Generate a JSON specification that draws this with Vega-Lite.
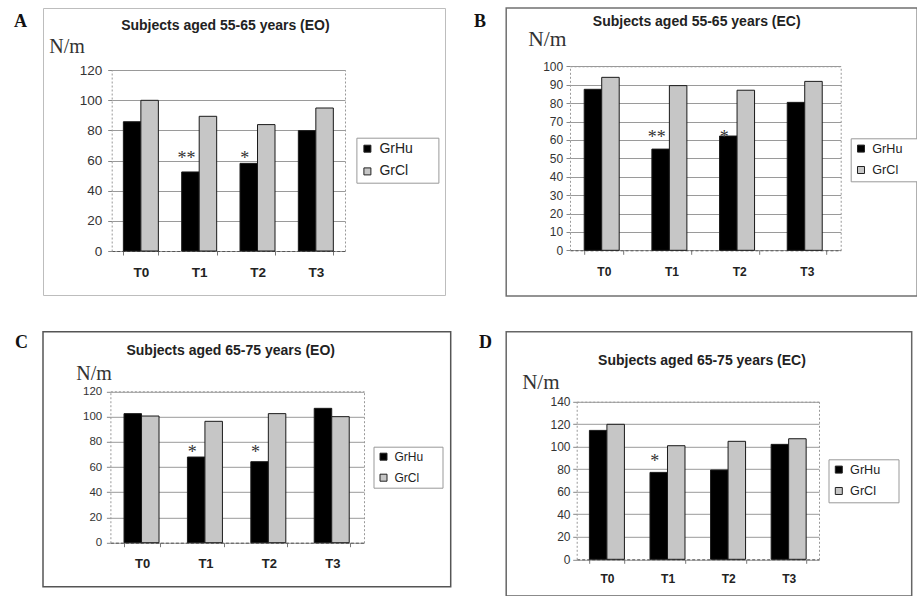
{
  "$schema": "https://vega.github.io/schema/vega-lite/v6.json",
  "padding": {"left": 12, "top": 7, "right": 0, "bottom": 0},
  "background": "white",
  "bounds": "flush",
  "align": "none",
  "columns": 2,
  "spacing": {"row": 35.8, "column": 55.2},
  "resolve": {"scale": {"color": "independent"}, "legend": {"color": "independent"}},
  "config": {
    "font": "Liberation Sans",
    "view": {"stroke": "#707070", "strokeWidth": 1.5},
    "title": {"font": "Liberation Sans", "fontSize": 14, "fontWeight": "bold", "color": "#222", "anchor": "middle", "frame": "group", "baseline": "alphabetic"},
    "axis": {"labelFont": "Liberation Sans", "labelColor": "#333"},
    "axisLeft": {"grid": true, "gridColor": "#9a9a9a", "gridWidth": 1, "domain": true, "domainColor": "#999", "domainDash": [2, 2], "ticks": true, "tickSize": 4, "tickColor": "#888", "labelFontSize": 12, "titleFont": "Liberation Serif", "titleFontSize": 21, "titleFontWeight": "normal", "titleColor": "#333", "titleAngle": 0, "titleAlign": "left", "titleBaseline": "alphabetic"},
    "axisBottom": {"grid": false, "domain": true, "domainColor": "#555", "domainDash": [3, 2], "ticks": true, "tickBand": "extent", "tickSize": 4, "tickColor": "#777", "labelFontWeight": "bold", "labelColor": "#222", "labelAngle": 0, "titleFont": "Liberation Serif", "titleFontSize": 18, "titleFontWeight": "bold", "titleColor": "#111", "titleAlign": "left", "titleBaseline": "alphabetic", "titleAngle": 0},
    "axisTop": {"grid": false, "domain": true, "domainColor": "#999", "domainDash": [2, 2], "ticks": false, "labels": false},
    "axisRight": {"grid": false, "domain": true, "domainColor": "#999", "domainDash": [2, 2], "ticks": false, "labels": false},
    "legend": {"orient": "none", "titleOrient": "right", "titleFontSize": 1, "padding": 4, "strokeColor": "#999", "fillColor": "white", "symbolType": "square", "symbolSize": 49, "symbolStrokeColor": "#222", "symbolStrokeWidth": 1, "labelFont": "Liberation Sans", "labelColor": "#222", "labelOffset": 5},
    "text": {"font": "Liberation Serif", "fontSize": 18, "color": "#333", "baseline": "alphabetic", "dx": -4}
  },
  "datasets": {
    "A": [
      {"time": "T0", "group": "GrHu", "value": 85.7}, {"time": "T0", "group": "GrCl", "value": 99.9},
      {"time": "T1", "group": "GrHu", "value": 52.4}, {"time": "T1", "group": "GrCl", "value": 89.3},
      {"time": "T2", "group": "GrHu", "value": 58.1}, {"time": "T2", "group": "GrCl", "value": 83.8},
      {"time": "T3", "group": "GrHu", "value": 79.8}, {"time": "T3", "group": "GrCl", "value": 94.8}
    ],
    "A_sig": [
      {"time": "T1", "group": "GrHu", "sig": "**", "pos": 57.9},
      {"time": "T2", "group": "GrHu", "sig": "*", "pos": 57.9}
    ],
    "B": [
      {"time": "T0", "group": "GrHu", "value": 87.5}, {"time": "T0", "group": "GrCl", "value": 94.0},
      {"time": "T1", "group": "GrHu", "value": 55.0}, {"time": "T1", "group": "GrCl", "value": 89.5},
      {"time": "T2", "group": "GrHu", "value": 62.1}, {"time": "T2", "group": "GrCl", "value": 87.0},
      {"time": "T3", "group": "GrHu", "value": 80.4}, {"time": "T3", "group": "GrCl", "value": 91.8}
    ],
    "B_sig": [
      {"time": "T1", "group": "GrHu", "sig": "**", "pos": 58.5},
      {"time": "T2", "group": "GrHu", "sig": "*", "pos": 58.5}
    ],
    "C": [
      {"time": "T0", "group": "GrHu", "value": 102.3}, {"time": "T0", "group": "GrCl", "value": 100.4},
      {"time": "T1", "group": "GrHu", "value": 67.9}, {"time": "T1", "group": "GrCl", "value": 96.2},
      {"time": "T2", "group": "GrHu", "value": 64.2}, {"time": "T2", "group": "GrCl", "value": 102.3},
      {"time": "T3", "group": "GrHu", "value": 106.5}, {"time": "T3", "group": "GrCl", "value": 99.9}
    ],
    "C_sig": [
      {"time": "T1", "group": "GrHu", "sig": "*", "pos": 67.4},
      {"time": "T2", "group": "GrHu", "sig": "*", "pos": 67.4}
    ],
    "D": [
      {"time": "T0", "group": "GrHu", "value": 114.5}, {"time": "T0", "group": "GrCl", "value": 119.9},
      {"time": "T1", "group": "GrHu", "value": 77.2}, {"time": "T1", "group": "GrCl", "value": 100.9},
      {"time": "T2", "group": "GrHu", "value": 79.3}, {"time": "T2", "group": "GrCl", "value": 104.8},
      {"time": "T3", "group": "GrHu", "value": 102.1}, {"time": "T3", "group": "GrCl", "value": 107.1}
    ],
    "D_sig": [
      {"time": "T1", "group": "GrHu", "sig": "*", "pos": 81.6}
    ]
  },
  "concat": [
    {
      "width": 402, "height": 287,
      "view": {"stroke": "#bdbdbd", "strokeWidth": 1},
      "title": {"text": "Subjects aged 55-65 years (EO)", "dx": -18.6, "offset": -24.5},
      "resolve": {"axis": {"x": "independent", "y": "independent"}},
      "layer": [
        {
          "data": {"name": "A"},
          "mark": {"type": "bar", "stroke": "#1a1a1a", "strokeWidth": 1},
          "encoding": {
            "x": {"field": "time", "type": "nominal", "scale": {"domain": ["T0", "T1", "T2", "T3"], "range": [68.7, 302], "paddingInner": 0.4, "paddingOuter": 0.2},
              "axis": {"orient": "bottom", "offset": -44, "labelFontSize": 13.5, "labelPadding": 10.3, "title": "A", "titleX": -29.6, "titleY": -225}},
            "xOffset": {"field": "group", "type": "nominal", "scale": {"domain": ["GrHu", "GrCl"], "paddingInner": 0, "paddingOuter": 0}},
            "y": {"field": "value", "type": "quantitative", "scale": {"domain": [0, 120], "range": [243, 62], "nice": false},
              "axis": {"orient": "left", "offset": -68.7, "values": [0, 20, 40, 60, 80, 100, 120], "labelFontSize": 13.5, "labelPadding": 6, "title": "N/m", "titleX": -63, "titleY": 44.5, "titleFontSize": 20}},
            "color": {"field": "group", "type": "nominal", "scale": {"domain": ["GrHu", "GrCl"], "range": ["#000000", "#c6c6c6"]},
              "legend": {"title": " ", "legendX": 313.4, "legendY": 129.7, "labelFontSize": 14, "rowPadding": 8.7, "titlePadding": 22}}
          }
        },
        {
          "data": {"name": "A_sig"},
          "mark": {"type": "text"},
          "encoding": {
            "x": {"field": "time", "type": "nominal", "axis": {"orient": "top", "offset": -62, "title": null}},
            "xOffset": {"field": "group", "type": "nominal"},
            "y": {"field": "pos", "type": "quantitative", "axis": {"orient": "right", "offset": -100, "title": null, "grid": false}},
            "text": {"field": "sig"}
          }
        }
      ]
    },
    {
      "width": 411, "height": 288,
      "view": {"stroke": "#707070", "strokeWidth": 1.5},
      "title": {"text": "Subjects aged 55-65 years (EC)", "dx": -15, "offset": -21},
      "resolve": {"axis": {"x": "independent", "y": "independent"}},
      "layer": [
        {
          "data": {"name": "B"},
          "mark": {"type": "bar", "stroke": "#1a1a1a", "strokeWidth": 1},
          "encoding": {
            "x": {"field": "time", "type": "nominal", "scale": {"domain": ["T0", "T1", "T2", "T3"], "range": [63.8, 334.5], "paddingInner": 0.42, "paddingOuter": 0.21},
              "axis": {"orient": "bottom", "offset": -45.7, "labelFontSize": 12, "labelPadding": 12.2, "title": "B", "titleX": -32.8, "titleY": -224.3}},
            "xOffset": {"field": "group", "type": "nominal", "scale": {"domain": ["GrHu", "GrCl"], "paddingInner": 0, "paddingOuter": 0}},
            "y": {"field": "value", "type": "quantitative", "scale": {"domain": [0, 100], "range": [242.3, 58.3], "nice": false},
              "axis": {"orient": "left", "offset": -63.8, "values": [0, 10, 20, 30, 40, 50, 60, 70, 80, 90, 100], "labelFontSize": 12, "labelPadding": 3.3, "title": "N/m", "titleX": -42.3, "titleY": 37.5, "titleFontSize": 21.5}},
            "color": {"field": "group", "type": "nominal", "scale": {"domain": ["GrHu", "GrCl"], "range": ["#000000", "#c6c6c6"]},
              "legend": {"title": " ", "legendX": 344.5, "legendY": 130.3, "labelFontSize": 12.6, "rowPadding": 8.4, "titlePadding": 14}}
          }
        },
        {
          "data": {"name": "B_sig"},
          "mark": {"type": "text"},
          "encoding": {
            "x": {"field": "time", "type": "nominal", "axis": {"orient": "top", "offset": -58.3, "title": null}},
            "xOffset": {"field": "group", "type": "nominal"},
            "y": {"field": "pos", "type": "quantitative", "axis": {"orient": "right", "offset": -76.5, "title": null, "grid": false}},
            "text": {"field": "sig"}
          }
        }
      ]
    },
    {
      "width": 407.7, "height": 254.9,
      "view": {"stroke": "#555555", "strokeWidth": 1.5},
      "title": {"text": "Subjects aged 65-75 years (EO)", "dx": -16.15, "offset": -26.2},
      "resolve": {"axis": {"x": "independent", "y": "independent"}},
      "layer": [
        {
          "data": {"name": "C"},
          "mark": {"type": "bar", "stroke": "#1a1a1a", "strokeWidth": 1},
          "encoding": {
            "x": {"field": "time", "type": "nominal", "scale": {"domain": ["T0", "T1", "T2", "T3"], "range": [67.4, 321], "paddingInner": 0.43, "paddingOuter": 0.215},
              "axis": {"orient": "bottom", "offset": -44, "labelFontSize": 13, "labelPadding": 10.7, "title": "C", "titleX": -28.6, "titleY": -195}},
            "xOffset": {"field": "group", "type": "nominal", "scale": {"domain": ["GrHu", "GrCl"], "paddingInner": 0, "paddingOuter": 0}},
            "y": {"field": "value", "type": "quantitative", "scale": {"domain": [0, 120], "range": [210.9, 59.5], "nice": false},
              "axis": {"orient": "left", "offset": -67.4, "values": [0, 20, 40, 60, 80, 100, 120], "labelFontSize": 11.5, "labelPadding": 4.7, "title": "N/m", "titleX": -34.7, "titleY": 47.2, "titleFontSize": 20}},
            "color": {"field": "group", "type": "nominal", "scale": {"domain": ["GrHu", "GrCl"], "range": ["#000000", "#c6c6c6"]},
              "legend": {"title": " ", "legendX": 330.5, "legendY": 114.9, "labelFontSize": 12, "rowPadding": 9, "titlePadding": 15}}
          }
        },
        {
          "data": {"name": "C_sig"},
          "mark": {"type": "text"},
          "encoding": {
            "x": {"field": "time", "type": "nominal", "axis": {"orient": "top", "offset": -59.5, "title": null}},
            "xOffset": {"field": "group", "type": "nominal"},
            "y": {"field": "pos", "type": "quantitative", "axis": {"orient": "right", "offset": -86.7, "title": null, "grid": false}},
            "text": {"field": "sig"}
          }
        }
      ]
    },
    {
      "width": 405.5, "height": 264.2,
      "view": {"stroke": "#666666", "strokeWidth": 1.5},
      "title": {"text": "Subjects aged 65-75 years (EC)", "dx": -7, "offset": -35.9},
      "resolve": {"axis": {"x": "independent", "y": "independent"}},
      "layer": [
        {
          "data": {"name": "D"},
          "mark": {"type": "bar", "stroke": "#1a1a1a", "strokeWidth": 1},
          "encoding": {
            "x": {"field": "time", "type": "nominal", "scale": {"domain": ["T0", "T1", "T2", "T3"], "range": [70.5, 312.8], "paddingInner": 0.42, "paddingOuter": 0.21},
              "axis": {"orient": "bottom", "offset": -36.7, "labelFontSize": 12, "labelPadding": 10.5, "title": "D", "titleX": -27.8, "titleY": -211.6}},
            "xOffset": {"field": "group", "type": "nominal", "scale": {"domain": ["GrHu", "GrCl"], "paddingInner": 0, "paddingOuter": 0}},
            "y": {"field": "value", "type": "quantitative", "scale": {"domain": [0, 140], "range": [227.5, 69.9], "nice": false},
              "axis": {"orient": "left", "offset": -70.5, "values": [0, 20, 40, 60, 80, 100, 120, 140], "labelFontSize": 12, "labelPadding": 2.7, "title": "N/m", "titleX": -55, "titleY": 56.2, "titleFontSize": 21}},
            "color": {"field": "group", "type": "nominal", "scale": {"domain": ["GrHu", "GrCl"], "range": ["#000000", "#c6c6c6"]},
              "legend": {"title": " ", "legendX": 322.3, "legendY": 127.5, "labelFontSize": 12.6, "rowPadding": 8.4, "titlePadding": 14}}
          }
        },
        {
          "data": {"name": "D_sig"},
          "mark": {"type": "text"},
          "encoding": {
            "x": {"field": "time", "type": "nominal", "axis": {"orient": "top", "offset": -69.9, "title": null}},
            "xOffset": {"field": "group", "type": "nominal"},
            "y": {"field": "pos", "type": "quantitative", "axis": {"orient": "right", "offset": -92.7, "title": null, "grid": false}},
            "text": {"field": "sig"}
          }
        }
      ]
    }
  ]
}
